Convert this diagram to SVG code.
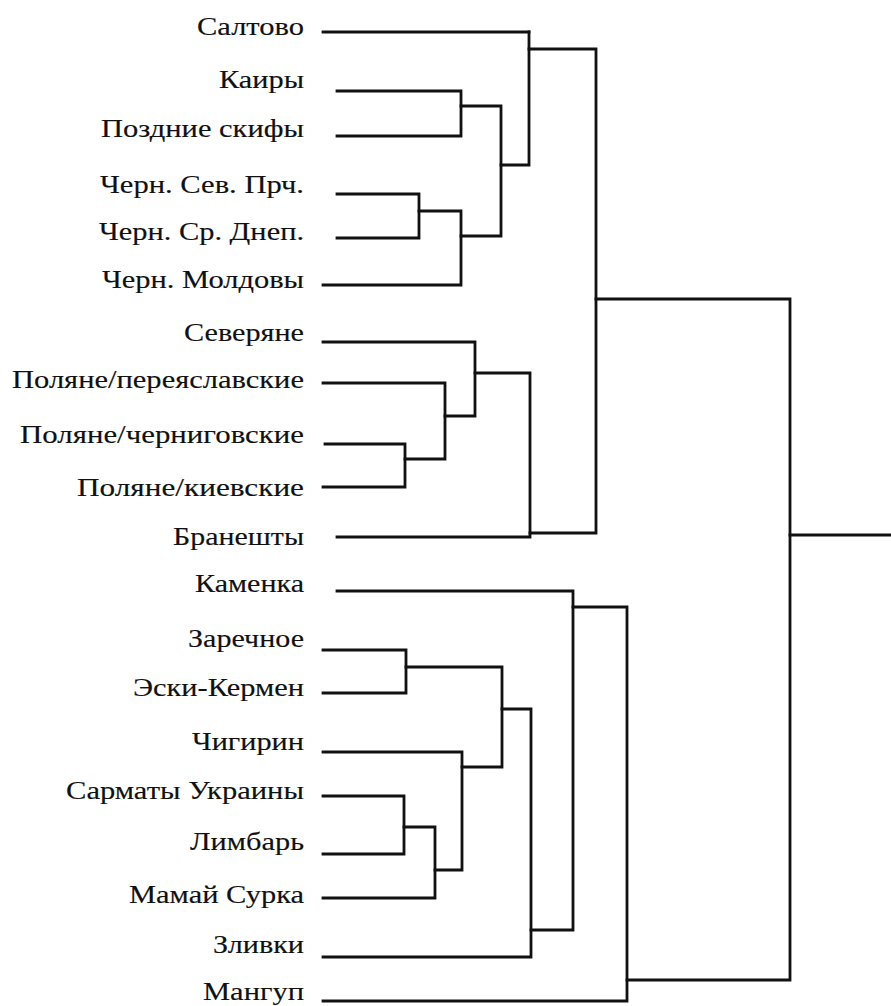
<svg xmlns="http://www.w3.org/2000/svg" width="891" height="1006" viewBox="0 0 891 1006">
<style>
.lbl{font-family:"Liberation Serif","Times New Roman",serif;font-size:26px;fill:#111;stroke:#111;stroke-width:0.15;text-anchor:end}
.ln{fill:none;stroke:#111;stroke-width:2.8;stroke-linecap:square;stroke-linejoin:miter}
</style>
<rect width="891" height="1006" fill="#fff"/>
<g id="labels">
<g id="n-saltovo"><text class="lbl" x="304" y="35" textLength="107" lengthAdjust="spacingAndGlyphs">Салтово</text></g>
<g id="n-kairy"><text class="lbl" x="304" y="88" textLength="85" lengthAdjust="spacingAndGlyphs">Каиры</text></g>
<g id="n-pozdnie"><text class="lbl" x="304" y="137" textLength="203" lengthAdjust="spacingAndGlyphs">Поздние скифы</text></g>
<g id="n-chern-sev"><text class="lbl" x="304" y="193" textLength="204" lengthAdjust="spacingAndGlyphs">Черн. Сев. Прч.</text></g>
<g id="n-chern-sr"><text class="lbl" x="304" y="240" textLength="205" lengthAdjust="spacingAndGlyphs">Черн. Ср. Днеп.</text></g>
<g id="n-chern-mold"><text class="lbl" x="304" y="288" textLength="202" lengthAdjust="spacingAndGlyphs">Черн. Молдовы</text></g>
<g id="n-severyane"><text class="lbl" x="304" y="341" textLength="120" lengthAdjust="spacingAndGlyphs">Северяне</text></g>
<g id="n-pol-per"><text class="lbl" x="304" y="388" textLength="292" lengthAdjust="spacingAndGlyphs">Поляне/переяславские</text></g>
<g id="n-pol-cher"><text class="lbl" x="304" y="443" textLength="284" lengthAdjust="spacingAndGlyphs">Поляне/черниговские</text></g>
<g id="n-pol-kiev"><text class="lbl" x="304" y="496" textLength="227" lengthAdjust="spacingAndGlyphs">Поляне/киевские</text></g>
<g id="n-braneshty"><text class="lbl" x="304" y="545" textLength="131" lengthAdjust="spacingAndGlyphs">Бранешты</text></g>
<g id="n-kamenka"><text class="lbl" x="304" y="592" textLength="109" lengthAdjust="spacingAndGlyphs">Каменка</text></g>
<g id="n-zarechnoe"><text class="lbl" x="304" y="647" textLength="116" lengthAdjust="spacingAndGlyphs">Заречное</text></g>
<g id="n-eski"><text class="lbl" x="304" y="696" textLength="171" lengthAdjust="spacingAndGlyphs">Эски-Кермен</text></g>
<g id="n-chigirin"><text class="lbl" x="304" y="750" textLength="112" lengthAdjust="spacingAndGlyphs">Чигирин</text></g>
<g id="n-sarmaty"><text class="lbl" x="304" y="799" textLength="238" lengthAdjust="spacingAndGlyphs">Сарматы Украины</text></g>
<g id="n-limbar"><text class="lbl" x="304" y="850" textLength="114" lengthAdjust="spacingAndGlyphs">Лимбарь</text></g>
<g id="n-mamai"><text class="lbl" x="304" y="903" textLength="175" lengthAdjust="spacingAndGlyphs">Мамай Сурка</text></g>
<g id="n-zlivki"><text class="lbl" x="304" y="953" textLength="91" lengthAdjust="spacingAndGlyphs">Зливки</text></g>
<g id="n-mangup"><text class="lbl" x="304" y="1000" textLength="101" lengthAdjust="spacingAndGlyphs">Мангуп</text></g>
</g>
<g id="connectors" class="ln">
<path class="ln" d="M323 32H529"/>
<path class="ln" d="M337 91H461V136H337"/>
<path class="ln" d="M337 194H419V238H337"/>
<path class="ln" d="M323 285H461V211H419"/>
<path class="ln" d="M461 106H501V236H461"/>
<path class="ln" d="M501 165H529V32"/>
<path class="ln" d="M529 49H596V533H530"/>
<path class="ln" d="M323 342H475V416H445"/>
<path class="ln" d="M323 383H445V459H405"/>
<path class="ln" d="M325 444H405V487H323"/>
<path class="ln" d="M475 373H530V537H337"/>
<path class="ln" d="M596 299H790V980H627"/>
<path class="ln" d="M790 535H891"/>
<path class="ln" d="M337 591H573V930H531"/>
<path class="ln" d="M573 607H627V1001H323"/>
<path class="ln" d="M323 650H406V693H323"/>
<path class="ln" d="M406 667H502V767H462"/>
<path class="ln" d="M323 752H462V870H435"/>
<path class="ln" d="M323 796H404V854H323"/>
<path class="ln" d="M404 827H435V898H323"/>
<path class="ln" d="M502 709H531V957H323"/>
</g>
</svg>
